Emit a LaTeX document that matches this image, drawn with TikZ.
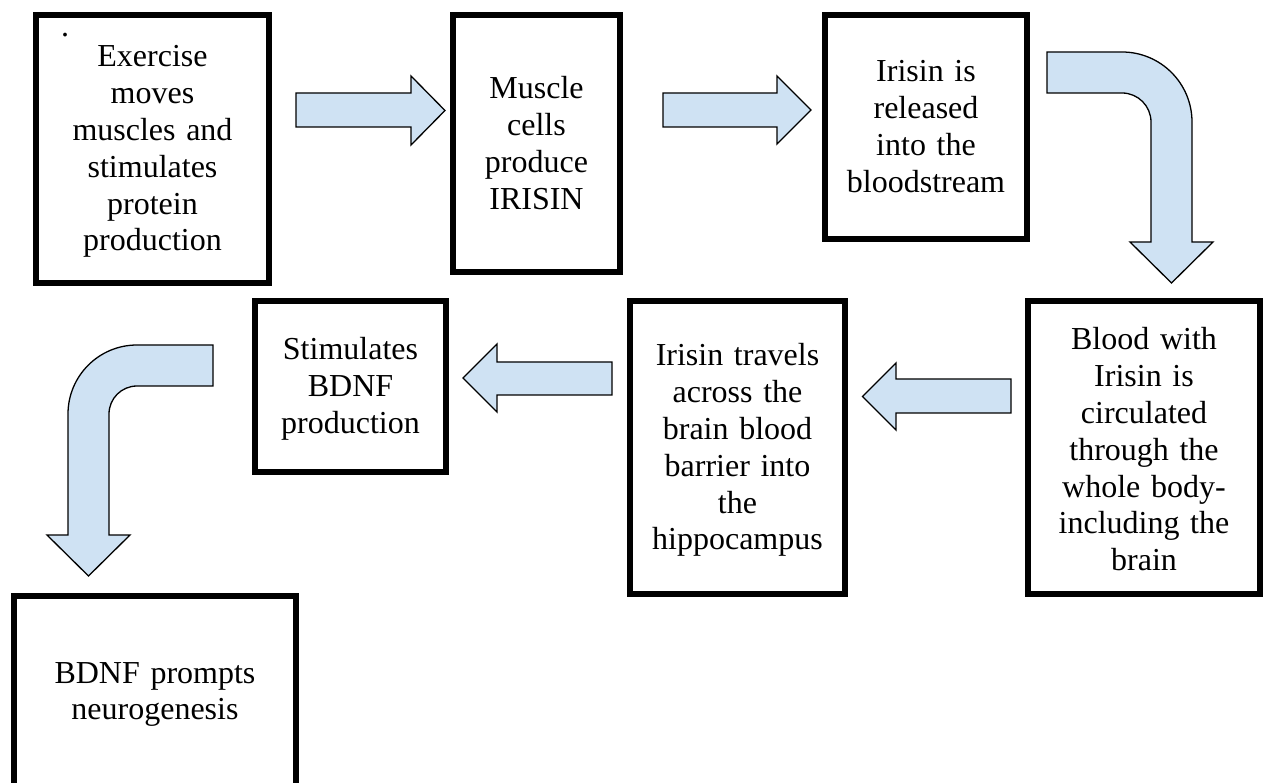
\documentclass[tikz,border=0pt]{standalone}
\usepackage{fontspec}
\setmainfont{Liberation Serif}
\definecolor{arrowblue}{RGB}{207,226,243}
\begin{document}
\begin{tikzpicture}[x=1pt,y=-1pt,
  box/.style={draw=black, line width=5.5pt, rectangle, inner sep=0pt, outer sep=0pt},
  txt/.style={font=\fontsize{32}{36.8}\selectfont, text width=240pt, align=center, inner sep=0pt, anchor=base},
  blockarrow/.style={draw=black, line width=1.3pt, fill=arrowblue, line join=miter}]
\path[use as bounding box] (0,0) rectangle (1264,783);
\clip (0,0) rectangle (1264,783);
\fill[white] (0,0) rectangle (1264,783);

% boxes
\node[box, minimum width=233pt, minimum height=268pt] (b1) at (152.5,149) {};
\node[box, minimum width=167pt, minimum height=257pt] (b2) at (536.5,143.5) {};
\node[box, minimum width=202pt, minimum height=224pt] (b3) at (926,127) {};
\node[box, minimum width=232pt, minimum height=293pt] (b4) at (1144,447.5) {};
\node[box, minimum width=215pt, minimum height=293pt] (b5) at (737.5,447.5) {};
\node[box, minimum width=191pt, minimum height=171pt] (b6) at (350.5,386.5) {};
\node[box, minimum width=282pt, minimum height=300pt] (b7) at (155,746) {};

% texts
\node[font=\fontsize{32}{36.8}\selectfont, inner sep=0pt, anchor=base] (dot) at (65,36.5) {.};
\node[txt] (t1) at (152.5,67) {Exercise\\moves\\muscles and\\stimulates\\protein\\production};
\node[txt] (t2) at (536.5,99) {Muscle\\cells\\produce\\IRISIN};
\node[txt] (t3) at (926,82) {Irisin is\\released\\into the\\bloodstream};
\node[txt] (t4) at (1144,350) {Blood with\\Irisin is\\circulated\\through the\\whole body-\\including the\\brain};
\node[txt] (t5) at (737.5,366) {Irisin travels\\across the\\brain blood\\barrier into\\the\\hippocampus};
\node[txt] (t6) at (350.5,360) {Stimulates\\BDNF\\production};
\node[txt] (t7) at (155,683) {BDNF prompts\\neurogenesis};

% straight block arrows
\draw[blockarrow] (296,93) -- (411,93) -- (411,76) -- (445,110.5) -- (411,145) -- (411,127) -- (296,127) -- cycle;
\draw[blockarrow] (663,93) -- (777,93) -- (777,76) -- (811,110) -- (777,144) -- (777,127) -- (663,127) -- cycle;
\draw[blockarrow] (1011,379) -- (896,379) -- (896,363) -- (862.5,396.5) -- (896,430) -- (896,413) -- (1011,413) -- cycle;
\draw[blockarrow] (612,362) -- (497,362) -- (497,344) -- (463,378) -- (497,412) -- (497,395) -- (612,395) -- cycle;

% bent block arrows
\draw[blockarrow] (1047,52) -- (1122,52) arc(-90:0:70) -- (1192,242) -- (1213,242) -- (1171.5,283) -- (1130,242) -- (1151,242) -- (1151,122) arc(0:-90:29) -- (1047,93) -- cycle;
\draw[blockarrow] (213,345) -- (137,345) arc(270:180:69) -- (68,535) -- (47,535) -- (88.5,576) -- (130,535) -- (109,535) -- (109,414) arc(180:270:28) -- (213,386) -- cycle;
\end{tikzpicture}
\end{document}
